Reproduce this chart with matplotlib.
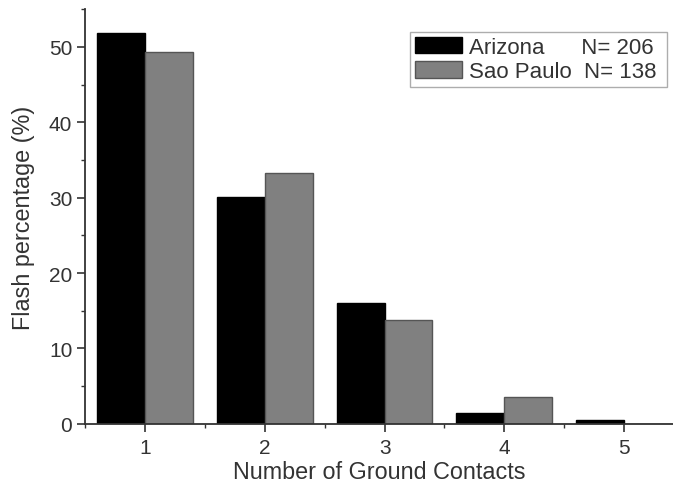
import matplotlib
matplotlib.use("Agg")
import matplotlib.pyplot as plt
import numpy as np
from matplotlib.ticker import MultipleLocator

plt.rcParams['font.family'] = ['Liberation Sans', 'DejaVu Sans']

contacts = [1, 2, 3, 4, 5]
arizona = [51.9, 30.1, 16.0, 1.5, 0.5]
sao_paulo = [49.3, 33.3, 13.8, 3.6, 0.0]
labels = ["Arizona      N= 206 ", "Sao Paulo  N= 138 "]

fig = plt.figure(figsize=(6.73, 4.85), dpi=100)
ax = fig.add_axes([0.127, 0.124, 0.873, 0.855])

x = np.array(contacts)
w = 0.4
ax.bar(x - w / 2, arizona, w, color='black', edgecolor='black', linewidth=1, label=labels[0])
ax.bar(x + w / 2, sao_paulo, w, color='#808080', edgecolor='#555555', linewidth=1, label=labels[1])

ax.set_xlim(0.5, 5.41)
ax.set_ylim(0, 55)
ax.set_xticks(contacts)
ax.xaxis.set_minor_locator(MultipleLocator(0.5))
ax.yaxis.set_major_locator(MultipleLocator(10))
ax.yaxis.set_minor_locator(MultipleLocator(5))

for s in ['top', 'right']:
    ax.spines[s].set_visible(False)
for s in ['left', 'bottom']:
    ax.spines[s].set_linewidth(1.3)
    ax.spines[s].set_color('#333333')

ax.tick_params(which='major', direction='out', length=6, width=1.2, labelsize=15, colors='#333333')
ax.tick_params(which='minor', direction='out', length=3, width=1.0, colors='#333333')
ax.tick_params(axis='x', which='major', pad=4)
for t in ax.get_xticklabels() + ax.get_yticklabels():
    t.set_color('#333333')

ax.set_xlabel("Number of Ground Contacts", fontsize=16.8, color='#333333', labelpad=2.5)
ax.set_ylabel("Flash percentage (%)", fontsize=16.8, color='#333333', labelpad=10)

leg = ax.legend(loc='upper right', bbox_to_anchor=(0.99, 0.945), fontsize=16,
                frameon=True, fancybox=False, handlelength=2.1, handleheight=0.77,
                handletextpad=0.3, labelspacing=0.15, borderpad=0.22, borderaxespad=0)
leg.get_frame().set_edgecolor('#999999')
leg.get_frame().set_linewidth(1)
for t in leg.get_texts():
    t.set_color('#333333')

fig.savefig("out.png", dpi=100)
